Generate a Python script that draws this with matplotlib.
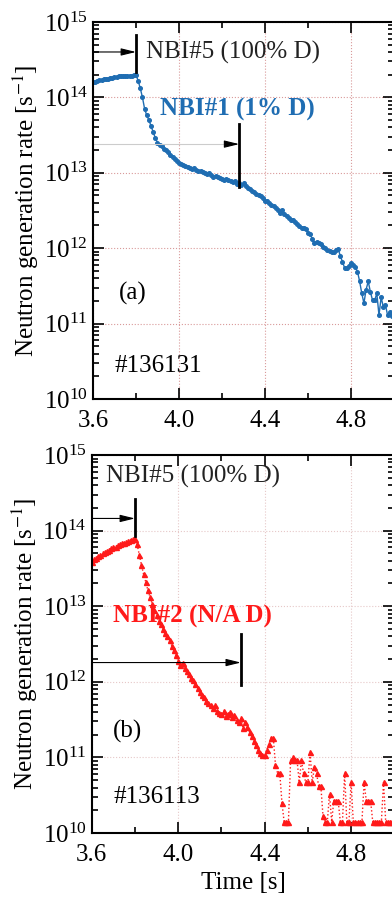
import numpy as np
import matplotlib
matplotlib.use("Agg")
import matplotlib.pyplot as plt
from matplotlib.ticker import LogLocator, MultipleLocator, NullFormatter

plt.rcParams["font.family"] = ["Liberation Serif", "DejaVu Serif"]
plt.rcParams["mathtext.fontset"] = "stix"

# time base (s), 10 ms sampling
time_a = np.round(np.arange(3.60, 4.995, 0.01), 2)
time_b = np.round(np.arange(3.60, 4.995, 0.01), 2)

# log10 of neutron rate, shot #136131 (NBI#1)
log_rate_a = [
    14.20, 14.21, 14.22, 14.23, 14.23, 14.24, 14.25, 14.25, 14.26, 14.26,
    14.27, 14.27, 14.28, 14.28, 14.29, 14.29, 14.29, 14.29, 14.29, 14.30,
    14.30, 14.22, 14.12, 14.00, 13.85, 13.76, 13.70, 13.62, 13.54, 13.46,
    13.40, 13.37, 13.35, 13.32, 13.30, 13.27, 13.24, 13.21, 13.18, 13.16,
    13.13, 13.12, 13.10, 13.09, 13.08, 13.07, 13.05, 13.06, 13.04, 13.02,
    13.03, 13.01, 13.00, 12.98, 13.00, 12.97, 12.95, 12.96, 12.94, 12.93,
    12.92, 12.91, 12.92, 12.90, 12.89, 12.88, 12.89, 12.85, 12.87, 12.84,
    12.86, 12.82, 12.80, 12.79, 12.76, 12.74, 12.72, 12.70, 12.69, 12.66,
    12.63, 12.62, 12.60, 12.57, 12.56, 12.53, 12.51, 12.47, 12.51, 12.45,
    12.43, 12.40, 12.38, 12.38, 12.35, 12.32, 12.30, 12.27, 12.27, 12.26,
    12.20, 12.19, 12.12, 12.07, 12.08, 12.07, 12.05, 12.02, 12.00, 11.97,
    11.96, 11.95, 11.95, 11.97, 11.99, 11.90, 11.82, 11.74, 11.74, 11.76,
    11.80, 11.78, 11.75, 11.69, 11.56, 11.40, 11.27, 11.45, 11.56, 11.42,
    11.31, 11.31, 11.40, 11.11, 11.35, 11.22, 11.25, 11.11, 11.15, 11.10,
]

# log10 of neutron rate, shot #136113 (NBI#2)
log_rate_b = [
    13.59, 13.62, 13.64, 13.66, 13.68, 13.70, 13.72, 13.73, 13.75, 13.77,
    13.78, 13.79, 13.81, 13.82, 13.83, 13.84, 13.85, 13.86, 13.88, 13.89,
    13.89, 13.82, 13.68, 13.55, 13.42, 13.32, 13.21, 13.12, 13.03, 12.95,
    12.88, 12.80, 12.76, 12.70, 12.65, 12.60, 12.55, 12.48, 12.42, 12.35,
    12.28, 12.22, 12.25, 12.18, 12.14, 12.10, 12.05, 12.02, 11.97, 11.92,
    11.87, 11.82, 11.80, 11.75, 11.72, 11.70, 11.66, 11.69, 11.62, 11.59,
    11.57, 11.62, 11.55, 11.58, 11.60, 11.53, 11.56, 11.50, 11.47, 11.52,
    11.39, 11.47, 11.40, 11.34, 11.28, 11.22, 11.16, 11.10, 11.06, 11.03,
    11.03, 11.10, 11.18, 11.26, 11.26, 10.90, 10.79, 10.79, 10.40, 10.15,
    10.15, 10.15, 10.96, 11.00, 10.96, 10.96, 10.67, 10.96, 10.79, 10.67,
    10.67, 11.07, 10.67, 10.87, 10.79, 10.62, 10.62, 10.22, 10.15, 10.15,
    10.52, 10.15, 10.43, 10.43, 10.43, 10.15, 10.15, 10.79, 10.15, 10.15,
    10.67, 10.15, 10.15, 10.15, 10.15, 10.15, 10.67, 10.43, 10.43, 10.43,
    10.15, 10.15, 10.15, 10.15, 10.15, 10.67, 10.15, 10.15, 10.15, 10.15,
]

rate_a = 10.0 ** np.array(log_rate_a)
rate_b = 10.0 ** np.array(log_rate_b)

# beam switch-off times
nbi5_off = 3.80
nbi1_off = 4.28
nbi2_off = 4.29

blue = "#1f6db2"
red = "#ff1a1a"
head = "-|>,head_length=0.9,head_width=0.22"


def style_axes(ax, grid_color):
    ax.set_yscale("log")
    ax.set_xlim(3.6, 5.0)
    ax.set_ylim(1e10, 1e15)
    ax.xaxis.set_major_locator(MultipleLocator(0.4))
    ax.xaxis.set_minor_locator(MultipleLocator(0.2))
    ax.xaxis.set_major_formatter(plt.FuncFormatter(lambda v, p: f"{v:.1f}"))
    ax.yaxis.set_major_locator(LogLocator(base=10, numticks=10))
    ax.yaxis.set_minor_locator(LogLocator(base=10, subs=np.arange(2, 10), numticks=20))
    ax.yaxis.set_minor_formatter(NullFormatter())
    ax.tick_params(which="both", direction="in", top=True, right=True, labelsize=18, width=1.2)
    ax.tick_params(which="major", length=8)
    ax.tick_params(which="minor", length=4)
    ax.tick_params(axis="x", pad=8)
    ax.grid(True, which="major", linestyle=":", color=grid_color, lw=0.8)
    for s in ax.spines.values():
        s.set_linewidth(1.5)
    ax.set_ylabel("Neutron generation rate [s$^{-1}$]", fontsize=18, labelpad=2)


fig = plt.figure(figsize=(3.92, 8.97), dpi=100)

# panel (a)
ax1 = fig.add_axes([0.2372, 0.5552, 0.768, 0.4203])
style_axes(ax1, "#d99a9a")
ax1.plot(time_a, rate_a, "-o", color=blue, ms=2.6, lw=1.0)

ax1.annotate("", xy=(nbi5_off, 4e14), xytext=(3.6, 4e14),
             arrowprops=dict(arrowstyle=head, color="k", lw=0.8, shrinkA=0, shrinkB=0))
ax1.plot([nbi5_off, nbi5_off], [2.2e14, 6.8e14], color="k", lw=2)
ax1.text(3.845, 4e14, "NBI#5 (100% D)", fontsize=18, va="center", ha="left", color="#222222")

ax1.plot([3.6, nbi1_off - 0.04], [2.4e13, 2.4e13], color="#cccccc", lw=0.8)
ax1.annotate("", xy=(nbi1_off, 2.4e13), xytext=(nbi1_off - 0.06, 2.4e13),
             arrowprops=dict(arrowstyle=head, color="k", lw=0.8, shrinkA=0, shrinkB=0))
ax1.plot([nbi1_off, nbi1_off], [6.5e12, 4.5e13], color="k", lw=2)
ax1.text(3.91, 7.0e13, "NBI#1 (1% D)", fontsize=18, fontweight="bold",
         color=blue, va="center", ha="left")

ax1.text(3.72, 2.5e11, "(a)", fontsize=18, va="center", ha="left")
ax1.text(3.70, 2.7e10, "#136131", fontsize=18, va="center", ha="left")

# panel (b)
ax2 = fig.add_axes([0.2340, 0.0713, 0.772, 0.4214])
style_axes(ax2, "#e6c8c8")
ax2.plot(time_b, rate_b, ":^", color=red, ms=3.6, lw=1.0)

ax2.annotate("", xy=(nbi5_off, 1.45e14), xytext=(3.6, 1.45e14),
             arrowprops=dict(arrowstyle=head, color="k", lw=0.8, shrinkA=0, shrinkB=0))
ax2.plot([nbi5_off, nbi5_off], [8.5e13, 2.6e14], color="k", lw=2)
ax2.text(3.665, 5.2e14, "NBI#5 (100% D)", fontsize=18, va="center", ha="left", color="#222222")

ax2.annotate("", xy=(nbi2_off, 1.8e12), xytext=(3.6, 1.8e12),
             arrowprops=dict(arrowstyle=head, color="k", lw=0.8, shrinkA=0, shrinkB=0))
ax2.plot([nbi2_off, nbi2_off], [9e11, 4.3e12], color="k", lw=2)
ax2.text(3.70, 7.3e12, "NBI#2 (N/A D)", fontsize=18, fontweight="bold",
         color=red, va="center", ha="left")

ax2.text(3.70, 2.2e11, "(b)", fontsize=18, va="center", ha="left")
ax2.text(3.70, 3.0e10, "#136113", fontsize=18, va="center", ha="left")
ax2.set_xlabel("Time [s]", fontsize=18, labelpad=4)

fig.savefig("out.png", dpi=100)
